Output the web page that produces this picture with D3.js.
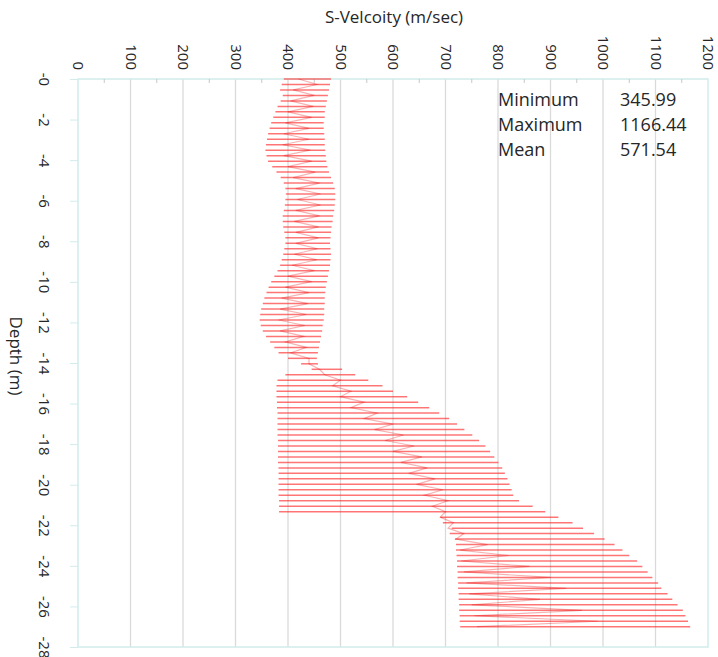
<!DOCTYPE html>
<html>
<head>
<meta charset="utf-8">
<script src="https://cdn.jsdelivr.net/npm/d3@7"></script>
<style>
  body { margin: 0; background: #fff; }
  text { font-family: "Open Sans", "Noto Sans", sans-serif; fill: #262626; }
</style>
</head>
<body>
<div id="chart-container"></div>
<script>
// Depth of each reading (m, shown negative on the axis)
const depths = [0.00, 0.27, 0.54, 0.81, 1.08, 1.35, 1.62, 1.89, 2.16, 2.43, 2.70, 2.97, 3.24, 3.51, 3.78,
  4.05, 4.32, 4.59, 4.86, 5.13, 5.40, 5.67, 5.94, 6.21, 6.48, 6.75, 7.02, 7.29, 7.56, 7.83, 8.10, 8.37,
  8.64, 8.91, 9.18, 9.45, 9.72, 9.99, 10.26, 10.53, 10.80, 11.07, 11.34, 11.61, 11.88, 12.15, 12.42,
  12.69, 12.96, 13.23, 13.50, 13.77, 14.04, 14.31, 14.58, 14.85, 15.12, 15.39, 15.66, 15.93, 16.20,
  16.47, 16.74, 17.01, 17.28, 17.55, 17.82, 18.09, 18.36, 18.63, 18.90, 19.17, 19.44, 19.71, 19.98,
  20.25, 20.52, 20.79, 21.06, 21.33, 21.60, 21.87, 22.14, 22.41, 22.68, 22.95, 23.22, 23.49, 23.76,
  24.03, 24.30, 24.57, 24.84, 25.11, 25.38, 25.65, 25.92, 26.19, 26.46, 26.73, 27.00];

// Low end of each velocity swing (m/sec)
const velLow = [392, 388, 385, 390, 386, 380, 376, 372, 368, 365, 362, 360, 358, 357, 359,
  362, 370, 378, 386, 392, 395, 396, 395, 394, 392, 390, 390, 391, 393, 395, 395, 393,
  391, 388, 385, 380, 374, 368, 363, 359, 355, 352, 349, 347, 346, 348, 352,
  358, 366, 374, 382, 400, 425, 445, 395, 380, 378, 378, 378, 379, 379,
  380, 380, 380, 380, 380, 381, 381, 381, 381, 381, 382, 382, 382, 382,
  382, 382, 383, 383, 383, 690, 695, 712, 708, 718, 720, 720, 721, 722,
  722, 723, 723, 724, 724, 725, 725, 726, 726, 727, 727, 728];

// High end of each velocity swing (m/sec)
const velHigh = [482, 480, 478, 476, 474, 472, 470, 470, 468, 468, 469, 470, 470, 471, 472,
  473, 475, 478, 482, 486, 489, 490, 490, 489, 488, 486, 485, 483, 482, 481, 480, 481,
  482, 481, 480, 478, 476, 474, 472, 471, 470, 470, 469, 469, 468, 466, 465,
  463, 461, 459, 457, 455, 457, 503, 528, 553, 580, 600, 627, 648, 669,
  688, 707, 722, 736, 751, 764, 776, 785, 793, 801, 808, 813, 818, 822,
  826, 829, 840, 866, 890, 915, 942, 962, 983, 1003, 1022, 1037, 1050, 1065,
  1075, 1085, 1094, 1105, 1111, 1123, 1132, 1142, 1152, 1157, 1162, 1166];

// Inner zig-zag trace (m/sec)
const velInner = [420, 455, 410, 450, 405, 448, 400, 445, 395, 440, 392, 440, 390, 442, 392,
  445, 400, 452, 410, 460, 415, 462, 418, 462, 415, 460, 412, 458, 415, 458, 415, 456,
  412, 455, 408, 450, 400, 445, 395, 440, 388, 438, 385, 435, 382, 432, 385,
  430, 395, 435, 405, 440, 440, 460, 470, 500, 485, 520, 500, 545, 520,
  570, 545, 600, 565, 620, 585, 640, 600, 655, 615, 665, 630, 680, 645,
  695, 660, 705, 675, 700, 690, 715, 705, 735, 720, 780, 728, 820, 730,
  860, 735, 900, 740, 930, 745, 880, 750, 960, 755, 990, 760];

const velTicks = [0, 100, 200, 300, 400, 500, 600, 700, 800, 900, 1000, 1100, 1200];
const minorTicks = [50, 150, 250, 350, 450, 550, 650, 750, 850, 950, 1050, 1150];
const depthTicks = [0, 2, 4, 6, 8, 10, 12, 14, 16, 18, 20, 22, 24, 26, 28];

const statNames = ["Minimum", "Maximum", "Mean"];
const statValues = ["345.99", "1166.44", "571.54"];

const width = 718;
const height = 657;
const margin = { top: 79, right: 10, bottom: 10, left: 78 };

const svg = d3.select("#chart-container")
  .append("svg")
  .attr("width", width)
  .attr("height", height);

const x = d3.scaleLinear().domain([0, 1200]).range([margin.left, width - margin.right]);
const y = d3.scaleLinear().domain([0, 28]).range([margin.top, height - margin.bottom]);

// Gridlines
svg.append("g")
  .attr("class", "grid")
  .selectAll("line")
  .data(velTicks.slice(1, -1))
  .join("line")
  .attr("x1", d => x(d)).attr("x2", d => x(d))
  .attr("y1", y(0)).attr("y2", y(28))
  .attr("stroke", "#dadada")
  .attr("stroke-width", 1.3);

// Plot frame
svg.append("rect")
  .attr("x", x(0)).attr("y", y(0))
  .attr("width", x(1200) - x(0))
  .attr("height", y(28) - y(0))
  .attr("fill", "none")
  .attr("stroke", "#d2ecec")
  .attr("stroke-width", 1.5);

// Small tick marks on the top edge
svg.append("g")
  .selectAll("line")
  .data(minorTicks)
  .join("line")
  .attr("x1", d => x(d)).attr("x2", d => x(d))
  .attr("y1", y(0)).attr("y2", y(0) + 4)
  .attr("stroke", "#c8c8c8");

// Top axis labels (rotated)
const topAxis = svg.append("g")
  .attr("transform", `translate(0,${y(0)})`)
  .call(d3.axisTop(x).tickValues(velTicks).tickSize(0).tickFormat(d3.format("d")));
topAxis.select(".domain").remove();
topAxis.selectAll("text")
  .attr("x", 0).attr("y", 0).attr("dy", "0.35em")
  .attr("text-anchor", "end")
  .attr("transform", "translate(0,-9) rotate(90)")
  .style("font-size", "15px")
  .style("font-family", "'Open Sans', sans-serif")
  .attr("fill", "#262626");

// Left axis (depth)
const leftAxis = svg.append("g")
  .attr("transform", `translate(${x(0)},0)`)
  .call(d3.axisLeft(y).tickValues(depthTicks).tickSize(8).tickFormat(d => "-" + d));
leftAxis.select(".domain").remove();
leftAxis.selectAll(".tick line").attr("stroke", "#d2ecec");
leftAxis.selectAll("text")
  .attr("x", 0).attr("y", 0).attr("dy", "0.35em")
  .attr("text-anchor", "middle")
  .attr("transform", "translate(-34,0) rotate(90)")
  .style("font-size", "15px")
  .style("font-family", "'Open Sans', sans-serif")
  .attr("fill", "#262626");

// Data
const rows = depths.map((d, i) => ({ depth: d, lo: velLow[i], hi: velHigh[i], inner: velInner[i] }));
const traces = svg.append("g").attr("class", "traces");

traces.selectAll("line.swing")
  .data(rows)
  .join("line")
  .attr("class", "swing")
  .attr("x1", d => x(d.lo)).attr("x2", d => x(d.hi))
  .attr("y1", d => y(d.depth)).attr("y2", d => y(d.depth))
  .attr("stroke", "#ff2020")
  .attr("stroke-opacity", 0.62)
  .attr("stroke-width", 1.5);

const line = d3.line().x(d => x(d[0])).y(d => y(d[1]));

// darker overlapping trace inside the swings
traces.append("path")
  .datum(rows.map(d => [d.inner, d.depth]))
  .attr("d", line)
  .attr("fill", "none")
  .attr("stroke", "#e00000")
  .attr("stroke-opacity", 0.3)
  .attr("stroke-width", 1.2);

// Stats box
const stats = svg.append("g").attr("class", "stats");
statNames.forEach((name, i) => {
  stats.append("text")
    .attr("x", 498).attr("y", 100 + i * 25).attr("dy", "0.35em")
    .style("font-size", "18px")
    .text(name);
  stats.append("text")
    .attr("x", 620).attr("y", 100 + i * 25).attr("dy", "0.35em")
    .style("font-size", "18px")
    .text(statValues[i]);
});

// Axis titles
svg.append("text")
  .attr("x", (x(0) + x(1200)) / 2 + 1).attr("y", 17).attr("dy", "0.35em")
  .attr("text-anchor", "middle")
  .style("font-size", "17px")
  .text("S-Velcoity (m/sec)");

svg.append("text")
  .attr("transform", "translate(16,356) rotate(90)")
  .attr("text-anchor", "middle")
  .attr("dy", "0.35em")
  .style("font-size", "17px")
  .text("Depth (m)");
</script>
</body>
</html>
